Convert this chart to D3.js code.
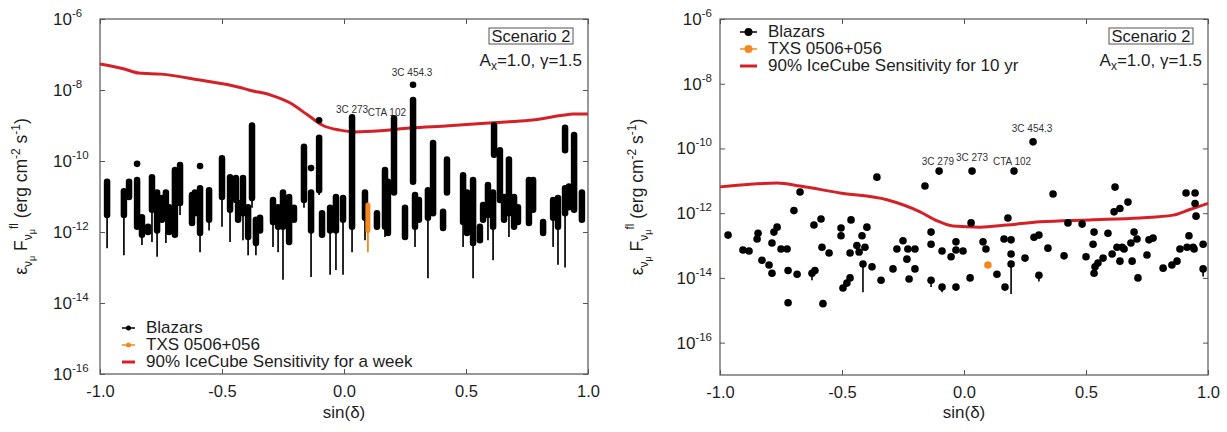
<!DOCTYPE html>
<html>
<head>
<meta charset="utf-8">
<title>Blazar neutrino fluxes</title>
<script src="https://cdn.jsdelivr.net/npm/d3@7"></script>
<style>
  body { margin: 0; background: #fff; }
  svg { font-family: "Liberation Sans", Arial, sans-serif; }
</style>
</head>
<body>
<script>
// ---------- left panel: weekly flux ranges per blazar ----------
const leftSin = [
  -0.971,-0.902,-0.881,-0.848,-0.828,-0.803,-0.787,-0.766,-0.746,-0.730,
  -0.717,-0.693,-0.672,-0.623,-0.611,-0.590,-0.553,-0.500,-0.467,-0.443,
  -0.434,-0.414,-0.393,-0.377,-0.361,-0.344,-0.291,-0.270,-0.250,-0.225,
  -0.205,-0.164,-0.135,-0.102,-0.090,-0.057,-0.033,-0.004,0.033,0.086,
  0.135,0.168,0.180,0.205,0.250,0.283,0.291,0.307,0.344,0.365,
  0.406,0.422,0.488,0.504,0.529,0.557,0.570,0.590,0.611,0.615,
  0.639,0.656,0.676,0.697,0.713,0.758,0.775,0.816,0.857,0.877,0.906,0.906,0.922,0.943,0.975];
const leftHi = [
  2.6e-11,1.4e-11,2.6e-11,2.9e-11,2.6e-12,1.4e-12,3.5e-11,1.3e-11,9.1e-12,1.3e-11,
  5.0e-12,5.6e-11,7.7e-11,1.1e-11,1.3e-11,1.7e-11,1.5e-11,1.2e-10,3.5e-11,3.3e-11,
  6.6e-12,3.3e-11,5.0e-12,1.0e-9,2.2e-12,2.5e-12,8.0e-12,5.0e-12,1.3e-11,9.7e-12,
  4.8e-12,2.5e-10,1.3e-11,4.5e-10,3.4e-12,4.8e-12,9.7e-12,9.1e-12,1.7e-9,1.3e-11,
  3.4e-12,5.6e-11,2.6e-11,1.6e-9,4.8e-12,5.2e-9,1.1e-11,8.0e-12,1.5e-11,3.2e-10,
  3.7e-12,1.1e-10,4.0e-11,1.3e-11,2.9e-11,1.4e-12,5.8e-12,2.1e-11,1.3e-11,1.0e-9,
  2.0e-10,9.7e-12,1.1e-10,9.7e-12,5.0e-12,2.9e-11,2.9e-11,1.9e-12,8.0e-12,9.1e-12,8.6e-10,1.7e-11,1.9e-11,5.4e-10,1.3e-11];
const leftLo = [
  3.0e-12,3.0e-12,9.7e-12,1.4e-12,8.3e-13,1.0e-12,4.2e-12,1.1e-12,2.2e-12,3.0e-12,
  1.0e-12,8.3e-13,6.6e-12,1.8e-12,3.4e-12,9.4e-13,2.2e-12,9.7e-12,4.2e-12,8.0e-12,
  2.2e-12,3.4e-12,7.2e-13,9.1e-12,4.9e-13,1.1e-12,1.9e-12,1.4e-12,1.4e-12,5.2e-13,
  2.2e-12,8.0e-12,1.1e-12,1.5e-11,8.3e-13,1.1e-12,1.1e-12,2.2e-12,1.4e-12,2.5e-12,
  1.4e-12,1.4e-12,9.4e-13,1.3e-11,7.2e-13,2.6e-11,1.4e-12,2.2e-12,2.5e-12,3.4e-12,
  1.3e-12,1.3e-11,1.9e-12,9.4e-13,4.9e-13,5.9e-13,2.2e-12,3.0e-12,1.4e-12,1.5e-10,
  8.0e-12,2.2e-12,3.4e-12,1.4e-12,1.9e-12,1.8e-12,4.2e-12,9.4e-13,2.5e-12,1.4e-12,2.0e-10,3.4e-12,5.0e-12,4.2e-12,2.2e-12];
const leftWhisker = [
  3.5e-13,2.2e-13,null,null,4.3e-13,null,5.2e-13,2.0e-13,null,4.9e-13,
  null,null,3.0e-12,null,null,2.7e-13,1.1e-12,1.4e-12,5.2e-13,null,
  null,5.9e-13,2.2e-13,4.8e-12,2.2e-13,null,3.8e-13,2.7e-13,4.5e-14,null,
  null,4.8e-12,5.4e-14,1.1e-11,null,6.2e-14,8.5e-14,6.2e-14,2.7e-13,5.9e-13,
  null,7.2e-13,null,null,null,null,3.8e-13,null,5.0e-14,null,
  null,null,3.8e-13,null,5.0e-14,null,null,5.9e-13,1.6e-13,null,
  null,null,7.2e-13,null,null,null,null,null,3.8e-13,1.2e-13,null,1.0e-13,null,null,null];
// isolated weekly points above the ranges
const leftDotSin = [-0.848,-0.590,-0.135,-0.102,0.283];
const leftDotFlux = [8.3e-11,7.2e-11,6.3e-11,1.4e-9,1.4e-8];
// TXS 0506+056 weekly range
const txsLeftSin = [0.098];
const txsLeftHi = [5.8e-12];
const txsLeftLo = [1.1e-12];
const txsLeftWhisker = [2.7e-13];
// IceCube 90% sensitivity for a week
const weekSin = [-1.0,-0.96,-0.90,-0.84,-0.75,-0.59,-0.43,-0.39,-0.30,-0.22,-0.15,-0.086,-0.016,0.045,0.15,0.27,0.43,0.61,0.76,0.89,0.94,1.0];
const weekFlux = [5.4e-8,4.8e-8,3.9e-8,3.0e-8,2.8e-8,1.9e-8,1.2e-8,1.0e-8,7.2e-9,4.3e-9,2.0e-9,1.0e-9,7.4e-10,6.6e-10,7.1e-10,8.5e-10,9.8e-10,1.2e-9,1.4e-9,1.9e-9,2.1e-9,2.1e-9];
const leftLabels = ["3C 273","CTA 102","3C 454.3"];
const leftLabelSin = [0.033,0.176,0.279];
const leftLabelFlux = [2.2e-9,1.9e-9,2.5e-8];

// ---------- right panel: 10 yr averaged flux ----------
const rightSin = [
  -0.967,-0.906,-0.881,-0.848,-0.844,-0.828,-0.799,-0.787,-0.787,-0.779,
  -0.766,-0.750,-0.725,-0.721,-0.721,-0.697,-0.684,-0.672,-0.623,-0.611,
  -0.615,-0.586,-0.582,-0.578,-0.553,-0.504,-0.504,-0.496,-0.480,-0.467,
  -0.467,-0.463,-0.439,-0.430,-0.418,-0.414,-0.406,-0.398,-0.377,-0.357,
  -0.340,-0.291,-0.275,-0.250,-0.230,-0.234,-0.225,-0.201,-0.201,-0.160,
  -0.135,-0.135,-0.135,-0.102,-0.090,-0.090,-0.053,-0.033,-0.033,-0.033,
  -0.004,0.025,0.029,0.033,0.078,0.090,0.135,0.168,0.164,0.180,
  0.193,0.193,0.193,0.205,0.250,0.283,0.287,0.307,0.307,0.344,
  0.365,0.410,0.426,0.484,0.500,0.529,0.533,0.533,0.537,0.549,
  0.570,0.590,0.607,0.615,0.619,0.627,0.639,0.639,0.648,0.656,
  0.672,0.684,0.689,0.697,0.709,0.713,0.750,0.758,0.775,0.816,
  0.852,0.873,0.885,0.910,0.914,0.922,0.939,0.943,0.947,0.947,0.951,0.980,0.980];
const rightFlux = [
  2.1e-13,7.3e-14,6.8e-14,1.6e-13,2.4e-13,3.5e-14,2.5e-14,1.4e-14,1.2e-13,2.6e-13,
  3.7e-13,7.8e-14,7.8e-14,1.7e-14,1.7e-15,1.2e-12,1.3e-14,4.5e-12,1.4e-14,1.7e-14,
  4.3e-13,6.6e-13,8.9e-14,1.6e-15,5.9e-14,3.5e-13,2.0e-13,4.9e-15,6.9e-15,1.0e-14,
  5.9e-14,6.2e-13,1.0e-13,6.3e-14,2.0e-13,2.7e-14,8.9e-14,3.7e-13,2.2e-14,1.3e-11,
  8.5e-15,1.9e-14,7.8e-14,1.4e-13,7.8e-14,3.8e-14,9.3e-15,7.8e-14,1.9e-14,6.9e-12,
  1.1e-13,2.6e-13,8.5e-15,2.0e-11,6.8e-14,5.2e-15,4.5e-14,1.3e-13,5.2e-15,7.3e-14,
  6.8e-14,1.0e-14,5.0e-13,2.0e-11,1.3e-13,7.8e-14,1.3e-14,5.2e-15,1.6e-13,7.1e-13,
  1.5e-13,5.5e-14,2.7e-14,2.0e-11,4.1e-14,1.6e-10,1.8e-13,2.1e-13,1.2e-14,8.3e-14,
  3.9e-12,4.8e-14,5.0e-13,4.6e-13,4.5e-14,1.1e-13,2.6e-13,1.4e-14,2.2e-14,2.9e-14,
  4.1e-14,2.4e-13,5.5e-14,1.1e-12,6.4e-12,8.9e-14,1.4e-12,3.3e-14,8.9e-14,7.8e-14,
  2.2e-12,1.2e-13,3.3e-14,2.6e-13,1.6e-13,1.0e-14,5.1e-14,1.5e-13,1.7e-13,2.0e-14,
  2.5e-14,3.3e-14,7.8e-14,4.2e-12,8.9e-14,2.0e-13,8.9e-14,7.8e-14,4.2e-12,2.0e-12,8.1e-13,1.1e-13,1.9e-14];
// lower error bars on the 10 yr points
const rightBarSin = [-0.623,-0.414,-0.135,-0.090,0.193,0.307,0.980];
const rightBarHi = [1.4e-14,2.7e-14,8.5e-15,5.2e-15,2.7e-14,1.2e-14,1.9e-14];
const rightBarLo = [8.5e-15,3.6e-15,5.2e-15,3.6e-15,3.2e-15,7.7e-15,1.1e-14];
const txsRightSin = [0.098];
const txsRightFlux = [2.5e-14];
// IceCube 90% sensitivity for 10 yr
const tenYrSin = [-1.0,-0.877,-0.766,-0.672,-0.508,-0.316,-0.18,-0.11,-0.045,0.066,0.176,0.311,0.516,0.721,0.857,0.926,1.0];
const tenYrFlux = [6.5e-12,7.9e-12,8.5e-12,6.9e-12,4.2e-12,2.6e-12,1.1e-12,5.8e-13,4.0e-13,3.7e-13,4.3e-13,5.4e-13,6.2e-13,7.1e-13,8.7e-13,1.3e-12,2.0e-12];
const rightLabels = ["3C 279","3C 273","CTA 102","3C 454.3"];
const rightLabelSin = [-0.107,0.033,0.197,0.279];
const rightLabelFlux = [3.1e-11,4.1e-11,3.1e-11,3.2e-10];

const xTicks = [-1, -0.5, 0, 0.5, 1];
const yTicks = [1e-16, 1e-14, 1e-12, 1e-10, 1e-8, 1e-6];
const legendLeft = ["Blazars", "TXS 0506+056", "90% IceCube Sensitivity for a week"];
const legendRight = ["Blazars", "TXS 0506+056", "90% IceCube Sensitivity for 10 yr"];

const RED = "#d42027", ORANGE = "#f5891f", FRAME = "#555", INK = "#1e1e1e";

const svg = d3.select("body").append("svg").attr("width", 1227).attr("height", 432);

function makePanel(p) {
  const x = d3.scaleLinear().domain([-1, 1]).range([p.left, p.right]);
  const y = d3.scaleLog().domain(p.yDomain).range([p.bottom, p.top]);
  const g = svg.append("g");

  // ticks on all four sides, pointing inwards
  const ax = [
    [d3.axisBottom(x).tickValues(xTicks), `translate(0,${p.bottom})`],
    [d3.axisTop(x).tickValues(xTicks), `translate(0,${p.top})`],
    [d3.axisLeft(y).tickValues(yTicks), `translate(${p.left},0)`],
    [d3.axisRight(y).tickValues(yTicks), `translate(${p.right},0)`]
  ];
  ax.forEach(([a, tr], i) => {
    const gg = g.append("g").attr("transform", tr)
      .call(a.tickSize(-5).tickSizeOuter(0).tickPadding(11)
        .tickFormat(i === 0 ? d => d.toFixed(1) : ""));
    gg.select(".domain").remove();
    gg.selectAll(".tick line").attr("stroke", FRAME);
    gg.selectAll(".tick text").attr("font-size", 16.5).attr("fill", INK);
  });
  g.append("rect").attr("x", p.left).attr("y", p.top)
    .attr("width", p.right - p.left).attr("height", p.bottom - p.top)
    .attr("fill", "none").attr("stroke", FRAME).attr("stroke-width", 1.2);

  // y tick labels 10^n
  const yl = g.selectAll("text.ylab").data(yTicks).join("text")
    .attr("class", "ylab")
    .attr("x", p.yLabX).attr("y", d => y(d) + 6)
    .attr("text-anchor", p.yLabAnchor)
    .attr("font-size", 17).attr("fill", INK);
  yl.append("tspan").text("10");
  yl.append("tspan").attr("dy", -8).attr("font-size", 11.5).text(d => Math.round(Math.log10(d)));

  // axis titles
  g.append("text").attr("x", (p.left + p.right) / 2).attr("y", 418)
    .attr("text-anchor", "middle").attr("font-size", 17).attr("fill", INK)
    .text("sin(δ)");
  const yt = g.append("text")
    .attr("transform", `translate(${p.titleX},${(p.top + p.bottom) / 2}) rotate(-90)`)
    .attr("text-anchor", "middle").attr("font-size", 17.5).attr("fill", INK);
  [["ε", 0, 17.5], ["ν", 5, 12], ["μ", 3, 9], [" F", -8, 17.5], ["ν", 5, 12], ["μ", 3, 9],
   ["fl", -17, 12], [" (erg cm", 9, 17.5], ["-2", -7, 12], [" s", 7, 17.5], ["-1", -7, 12], [")", 7, 17.5]]
    .forEach(([t, dy, fs]) => yt.append("tspan").attr("dy", dy).attr("font-size", fs).text(t));

  // sensitivity curve
  g.append("path")
    .datum(d3.zip(p.curveSin, p.curveFlux))
    .attr("fill", "none").attr("stroke", RED).attr("stroke-width", 3)
    .attr("d", d3.line().curve(d3.curveMonotoneX).x(d => x(d[0])).y(d => y(d[1])));

  // scenario box
  g.append("rect").attr("x", p.right - 99).attr("y", 28).attr("width", 84).attr("height", 16)
    .attr("fill", "none").attr("stroke", FRAME);
  g.append("text").attr("x", p.right - 57).attr("y", 42).attr("text-anchor", "middle")
    .attr("font-size", 16.5).attr("fill", INK).text("Scenario 2");
  const ann = g.append("text").attr("x", p.right - 6).attr("y", 66).attr("text-anchor", "end")
    .attr("font-size", 17).attr("fill", INK);
  ann.append("tspan").text("A");
  ann.append("tspan").attr("dy", 4).attr("font-size", 12).text("x");
  ann.append("tspan").attr("dy", -4).text("=1.0, γ=1.5");

  // source names
  g.selectAll("text.src").data(p.labels).join("text")
    .attr("class", "src")
    .attr("x", (d, i) => x(p.labelSin[i])).attr("y", (d, i) => y(p.labelFlux[i]))
    .attr("text-anchor", "middle").attr("font-size", 10).attr("fill", "#333")
    .text(d => d);

  // legend
  const lg = g.selectAll("g.leg").data(p.legend).join("g")
    .attr("class", "leg")
    .attr("transform", (d, i) => `translate(${p.legX},${p.legY + i * 17})`);
  lg.append("line").attr("x1", 0).attr("x2", p.legW).attr("y1", -5).attr("y2", -5)
    .attr("stroke", (d, i) => [p.dotColor, ORANGE, RED][i])
    .attr("stroke-width", (d, i) => i === 2 ? 3 : 1.5);
  lg.filter((d, i) => i < 2).append("circle")
    .attr("cx", p.legW / 2).attr("cy", -5).attr("r", p.legR)
    .attr("fill", (d, i) => i === 0 ? "#000" : ORANGE);
  lg.append("text").attr("x", p.legW + 11).attr("y", 0)
    .attr("font-size", 17).attr("fill", INK).text(d => d);

  return { g, x, y };
}

// ---------- left panel ----------
const L = makePanel({
  left: 100, right: 588, top: 19, bottom: 374, yDomain: [1e-16, 1e-6],
  yLabX: 53, yLabAnchor: "start", titleX: 27,
  curveSin: weekSin, curveFlux: weekFlux,
  labels: leftLabels, labelSin: leftLabelSin, labelFlux: leftLabelFlux,
  legend: legendLeft, legX: 122, legY: 333, legW: 13, legR: 2.5, dotColor: "#000"
});
const leftIdx = d3.range(leftSin.length);
L.g.append("g").selectAll("line").data(leftIdx.filter(i => leftWhisker[i] !== null)).join("line")
  .attr("x1", i => L.x(leftSin[i])).attr("x2", i => L.x(leftSin[i]))
  .attr("y1", i => L.y(leftLo[i])).attr("y2", i => L.y(leftWhisker[i]))
  .attr("stroke", "#111").attr("stroke-width", 1.8);
L.g.append("g").selectAll("line").data(leftIdx).join("line")
  .attr("x1", i => L.x(leftSin[i])).attr("x2", i => L.x(leftSin[i]))
  .attr("y1", i => L.y(leftHi[i])).attr("y2", i => L.y(leftLo[i]))
  .attr("stroke", "#000").attr("stroke-width", 6.5).attr("stroke-linecap", "round");
L.g.append("g").selectAll("circle").data(leftDotSin).join("circle")
  .attr("cx", d => L.x(d)).attr("cy", (d, i) => L.y(leftDotFlux[i])).attr("r", 3.3)
  .attr("fill", "#000");
L.g.append("g").selectAll("line").data(txsLeftSin).join("line")
  .attr("x1", d => L.x(d)).attr("x2", d => L.x(d))
  .attr("y1", (d, i) => L.y(txsLeftLo[i])).attr("y2", (d, i) => L.y(txsLeftWhisker[i]))
  .attr("stroke", ORANGE).attr("stroke-width", 1.8);
L.g.append("g").selectAll("line").data(txsLeftSin).join("line")
  .attr("x1", d => L.x(d)).attr("x2", d => L.x(d))
  .attr("y1", (d, i) => L.y(txsLeftHi[i])).attr("y2", (d, i) => L.y(txsLeftLo[i]))
  .attr("stroke", ORANGE).attr("stroke-width", 5).attr("stroke-linecap", "round");

// ---------- right panel ----------
const R = makePanel({
  left: 720, right: 1208, top: 19, bottom: 375, yDomain: [1e-17, 1e-6],
  yLabX: 712, yLabAnchor: "end", titleX: 643,
  curveSin: tenYrSin, curveFlux: tenYrFlux,
  labels: rightLabels, labelSin: rightLabelSin, labelFlux: rightLabelFlux,
  legend: legendRight, legX: 740, legY: 37, legW: 17, legR: 4, dotColor: "#000"
});
R.g.append("g").selectAll("line").data(rightBarSin).join("line")
  .attr("x1", d => R.x(d)).attr("x2", d => R.x(d))
  .attr("y1", (d, i) => R.y(rightBarHi[i])).attr("y2", (d, i) => R.y(rightBarLo[i]))
  .attr("stroke", "#000").attr("stroke-width", 1.6);
R.g.append("g").selectAll("circle").data(rightSin).join("circle")
  .attr("cx", d => R.x(d)).attr("cy", (d, i) => R.y(rightFlux[i])).attr("r", 3.8)
  .attr("fill", "#000");
R.g.append("g").selectAll("circle").data(txsRightSin).join("circle")
  .attr("cx", d => R.x(d)).attr("cy", (d, i) => R.y(txsRightFlux[i])).attr("r", 3.8)
  .attr("fill", ORANGE);
</script>
</body>
</html>
